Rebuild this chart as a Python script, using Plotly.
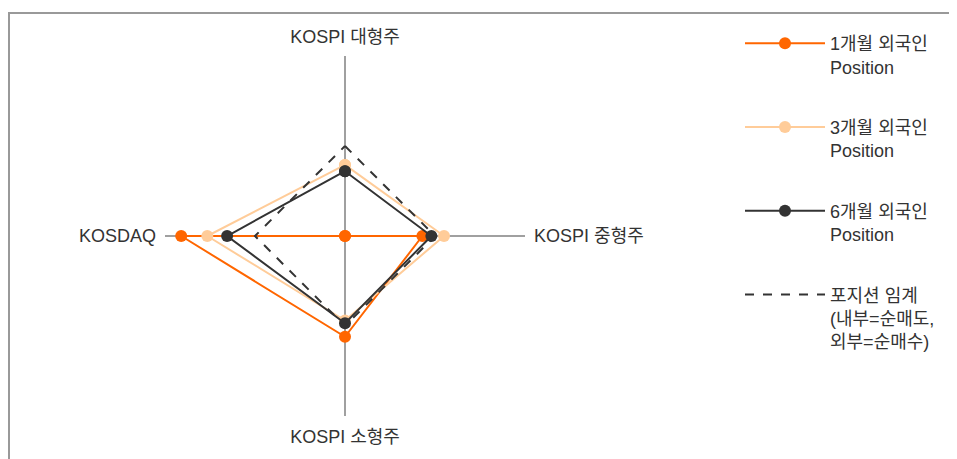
import plotly.graph_objects as go

categories = ["KOSPI 대형주", "KOSPI 중형주", "KOSPI 소형주", "KOSDAQ"]
pos_1m = [-100, -14, 12, 82]
pos_3m = [-21, 10, -6, 53]
pos_6m = [-28, -4, -3, 31]
threshold = [0, 0, 0, 0]

names = ["1개월 외국인<br>Position", "3개월 외국인<br>Position", "6개월 외국인<br>Position",
         "포지션 임계<br>(내부=순매도,<br>외부=순매수)"]

FONT = "Liberation Sans, Arial, Noto Sans CJK KR, sans-serif"
W, H = 957, 459

def closed(v):
    return list(v) + [v[0]]

theta = closed(categories)

fig = go.Figure()
colors = ["#FF6600", "#FFCC99", "#333333"]
for i, (vals, c) in enumerate(zip([pos_1m, pos_3m, pos_6m], colors)):
    fig.add_trace(go.Scatterpolar(
        r=closed(vals), theta=theta, name=names[i],
        mode="lines+markers",
        line=dict(color=c, width=2),
        marker=dict(color=c, size=12),
        legendgroup=f"g{i}",
    ))
fig.add_trace(go.Scatterpolar(
    r=closed(threshold), theta=theta, name=names[3],
    mode="lines",
    line=dict(color="#333333", width=2, dash="dash"),
    legendgroup="g3",
))

fig.update_layout(
    width=W, height=H,
    margin=dict(l=0, r=0, t=0, b=0),
    paper_bgcolor="white",
    font=dict(family=FONT, size=18, color="#333333"),
    polar=dict(
        domain=dict(x=[157/W, 517/W], y=[1-408/H, 1-48/H]),
        bgcolor="white",
        radialaxis=dict(range=[-100, 100], showgrid=False, showline=False,
                        showticklabels=False, ticks=""),
        angularaxis=dict(categoryorder="array", categoryarray=categories,
                         rotation=90, direction="clockwise",
                         showgrid=True, gridcolor="#A0A0A0", gridwidth=2,
                         showline=False, ticks="outside", ticklen=5,
                         tickcolor="rgba(0,0,0,0)",
                         tickfont=dict(family=FONT, size=18, color="#333333")),
    ),
    legend=dict(x=732/W, y=1-17/H, xanchor="left", yanchor="top",
                traceorder="grouped", tracegroupgap=34, valign="top",
                itemwidth=80,
                font=dict(family=FONT, size=18, color="#333333"),
                bgcolor="rgba(0,0,0,0)"),
    shapes=[dict(type="path", xref="paper", yref="paper",
                 path=f"M {1/W} -0.2 L {1/W} {1-5/H} L {946/W} {1-5/H} L {946/W} -0.2",
                 line=dict(color="#999999", width=2))],
)

fig.write_html("out.html")
